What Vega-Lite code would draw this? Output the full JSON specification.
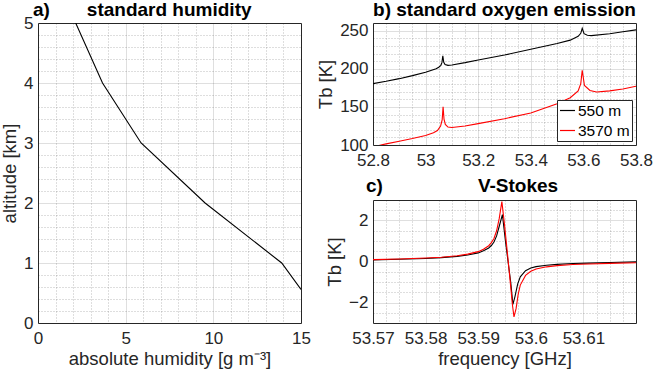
{
  "$schema": "https://vega.github.io/schema/vega-lite/v6.json",
  "background": "white",
  "padding": {"left": 0, "top": 0, "right": 2, "bottom": 2},
  "config": {
    "font": "Liberation Sans",
    "view": {"stroke": "#262626", "strokeWidth": 1},
    "axis": {
      "labelFont": "Liberation Sans", "labelFontSize": 17, "labelColor": "#262626",
      "titleFont": "Liberation Sans", "titleFontSize": 18.5, "titleFontWeight": "normal", "titleColor": "#262626",
      "ticks": false, "domain": false, "gridColor": "#262626", "gridOpacity": 0.15, "gridWidth": 1,
      "labelOverlap": false, "labelFlush": false, "labelBound": false
    },
    "axisX": {"labelPadding": 7, "titlePadding": 3},
    "axisY": {"labelPadding": 5, "titlePadding": 4},
    "title": {"font": "Liberation Sans", "fontSize": 19, "fontWeight": "bold", "color": "black", "frame": "group"}
  },
  "datasets": {
    "humidity": [
      {"hum": 2.15, "alt": 5},
      {"hum": 3.68, "alt": 4},
      {"hum": 5.88, "alt": 3},
      {"hum": 9.53, "alt": 2},
      {"hum": 13.9, "alt": 1},
      {"hum": 15.0, "alt": 0.56}
    ],
    "oxygen": [
      {"f": 52.80, "tb": 180.5, "s": "550 m"},
      {"f": 52.85, "tb": 183.5, "s": "550 m"},
      {"f": 52.90, "tb": 187, "s": "550 m"},
      {"f": 52.95, "tb": 191, "s": "550 m"},
      {"f": 53.00, "tb": 195.5, "s": "550 m"},
      {"f": 53.04, "tb": 200, "s": "550 m"},
      {"f": 53.05, "tb": 202, "s": "550 m"},
      {"f": 53.058, "tb": 204.5, "s": "550 m"},
      {"f": 53.062, "tb": 208, "s": "550 m"},
      {"f": 53.0655, "tb": 217, "s": "550 m"},
      {"f": 53.069, "tb": 208.5, "s": "550 m"},
      {"f": 53.074, "tb": 205.5, "s": "550 m"},
      {"f": 53.085, "tb": 204.5, "s": "550 m"},
      {"f": 53.10, "tb": 205, "s": "550 m"},
      {"f": 53.15, "tb": 208, "s": "550 m"},
      {"f": 53.20, "tb": 211.5, "s": "550 m"},
      {"f": 53.30, "tb": 218, "s": "550 m"},
      {"f": 53.40, "tb": 225.5, "s": "550 m"},
      {"f": 53.50, "tb": 233, "s": "550 m"},
      {"f": 53.55, "tb": 237.5, "s": "550 m"},
      {"f": 53.58, "tb": 242.5, "s": "550 m"},
      {"f": 53.59, "tb": 246.5, "s": "550 m"},
      {"f": 53.5955, "tb": 253, "s": "550 m"},
      {"f": 53.6025, "tb": 246, "s": "550 m"},
      {"f": 53.615, "tb": 244, "s": "550 m"},
      {"f": 53.63, "tb": 243.5, "s": "550 m"},
      {"f": 53.70, "tb": 246, "s": "550 m"},
      {"f": 53.75, "tb": 248.5, "s": "550 m"},
      {"f": 53.80, "tb": 251, "s": "550 m"},
      {"f": 52.80, "tb": 97.5, "s": "3570 m"},
      {"f": 52.85, "tb": 101.5, "s": "3570 m"},
      {"f": 52.90, "tb": 105, "s": "3570 m"},
      {"f": 52.95, "tb": 108.5, "s": "3570 m"},
      {"f": 53.00, "tb": 112.5, "s": "3570 m"},
      {"f": 53.03, "tb": 116, "s": "3570 m"},
      {"f": 53.045, "tb": 119, "s": "3570 m"},
      {"f": 53.057, "tb": 125, "s": "3570 m"},
      {"f": 53.063, "tb": 133, "s": "3570 m"},
      {"f": 53.0665, "tb": 150, "s": "3570 m"},
      {"f": 53.070, "tb": 134, "s": "3570 m"},
      {"f": 53.075, "tb": 127, "s": "3570 m"},
      {"f": 53.085, "tb": 123.5, "s": "3570 m"},
      {"f": 53.10, "tb": 123, "s": "3570 m"},
      {"f": 53.15, "tb": 125, "s": "3570 m"},
      {"f": 53.20, "tb": 128, "s": "3570 m"},
      {"f": 53.30, "tb": 134.5, "s": "3570 m"},
      {"f": 53.40, "tb": 142, "s": "3570 m"},
      {"f": 53.50, "tb": 154, "s": "3570 m"},
      {"f": 53.55, "tb": 162, "s": "3570 m"},
      {"f": 53.58, "tb": 171, "s": "3570 m"},
      {"f": 53.59, "tb": 180.5, "s": "3570 m"},
      {"f": 53.5955, "tb": 198, "s": "3570 m"},
      {"f": 53.604, "tb": 178, "s": "3570 m"},
      {"f": 53.625, "tb": 171.5, "s": "3570 m"},
      {"f": 53.65, "tb": 169.5, "s": "3570 m"},
      {"f": 53.70, "tb": 171, "s": "3570 m"},
      {"f": 53.75, "tb": 173.5, "s": "3570 m"},
      {"f": 53.80, "tb": 177, "s": "3570 m"}
    ],
    "stokes": [
      {"f": 53.570, "v": 0.08, "s": "550 m"},
      {"f": 53.575, "v": 0.11, "s": "550 m"},
      {"f": 53.580, "v": 0.15, "s": "550 m"},
      {"f": 53.583, "v": 0.19, "s": "550 m"},
      {"f": 53.586, "v": 0.25, "s": "550 m"},
      {"f": 53.588, "v": 0.32, "s": "550 m"},
      {"f": 53.590, "v": 0.42, "s": "550 m"},
      {"f": 53.591, "v": 0.52, "s": "550 m"},
      {"f": 53.592, "v": 0.66, "s": "550 m"},
      {"f": 53.5925, "v": 0.78, "s": "550 m"},
      {"f": 53.593, "v": 0.95, "s": "550 m"},
      {"f": 53.5935, "v": 1.25, "s": "550 m"},
      {"f": 53.594, "v": 1.72, "s": "550 m"},
      {"f": 53.5946, "v": 2.29, "s": "550 m"},
      {"f": 53.5952, "v": 0.95, "s": "550 m"},
      {"f": 53.5957, "v": -0.05, "s": "550 m"},
      {"f": 53.5962, "v": -1.05, "s": "550 m"},
      {"f": 53.5966, "v": -2.09, "s": "550 m"},
      {"f": 53.5970, "v": -1.7, "s": "550 m"},
      {"f": 53.5975, "v": -1.1, "s": "550 m"},
      {"f": 53.598, "v": -0.75, "s": "550 m"},
      {"f": 53.599, "v": -0.45, "s": "550 m"},
      {"f": 53.600, "v": -0.32, "s": "550 m"},
      {"f": 53.601, "v": -0.25, "s": "550 m"},
      {"f": 53.603, "v": -0.18, "s": "550 m"},
      {"f": 53.605, "v": -0.14, "s": "550 m"},
      {"f": 53.608, "v": -0.1, "s": "550 m"},
      {"f": 53.611, "v": -0.08, "s": "550 m"},
      {"f": 53.615, "v": -0.05, "s": "550 m"},
      {"f": 53.620, "v": -0.02, "s": "550 m"},
      {"f": 53.570, "v": 0.09, "s": "3570 m"},
      {"f": 53.575, "v": 0.12, "s": "3570 m"},
      {"f": 53.580, "v": 0.17, "s": "3570 m"},
      {"f": 53.583, "v": 0.21, "s": "3570 m"},
      {"f": 53.586, "v": 0.28, "s": "3570 m"},
      {"f": 53.588, "v": 0.36, "s": "3570 m"},
      {"f": 53.590, "v": 0.48, "s": "3570 m"},
      {"f": 53.591, "v": 0.6, "s": "3570 m"},
      {"f": 53.592, "v": 0.77, "s": "3570 m"},
      {"f": 53.5925, "v": 0.92, "s": "3570 m"},
      {"f": 53.593, "v": 1.12, "s": "3570 m"},
      {"f": 53.5935, "v": 1.5, "s": "3570 m"},
      {"f": 53.594, "v": 2.1, "s": "3570 m"},
      {"f": 53.5945, "v": 2.92, "s": "3570 m"},
      {"f": 53.5950, "v": 1.8, "s": "3570 m"},
      {"f": 53.5955, "v": 0.55, "s": "3570 m"},
      {"f": 53.5960, "v": -0.75, "s": "3570 m"},
      {"f": 53.5965, "v": -2.1, "s": "3570 m"},
      {"f": 53.5968, "v": -2.7, "s": "3570 m"},
      {"f": 53.5972, "v": -2.3, "s": "3570 m"},
      {"f": 53.5976, "v": -1.6, "s": "3570 m"},
      {"f": 53.598, "v": -1.15, "s": "3570 m"},
      {"f": 53.599, "v": -0.68, "s": "3570 m"},
      {"f": 53.600, "v": -0.48, "s": "3570 m"},
      {"f": 53.601, "v": -0.37, "s": "3570 m"},
      {"f": 53.603, "v": -0.26, "s": "3570 m"},
      {"f": 53.605, "v": -0.2, "s": "3570 m"},
      {"f": 53.608, "v": -0.15, "s": "3570 m"},
      {"f": 53.611, "v": -0.12, "s": "3570 m"},
      {"f": 53.615, "v": -0.09, "s": "3570 m"},
      {"f": 53.620, "v": -0.06, "s": "3570 m"}
    ]
  },
  "spacing": 72,
  "bounds": "flush",
  "hconcat": [
    {
      "width": 263,
      "height": 300,
      "title": {"text": "a)\u00a0\u00a0\u00a0\u00a0\u00a0\u00a0\u00a0standard humidity", "anchor": "start", "dx": -5, "offset": -6},
      "data": {"name": "humidity"},
      "resolve": {"axis": {"x": "independent", "y": "independent"}},
      "layer": [
        {
          "mark": {"type": "line", "color": "black", "strokeWidth": 1.1, "clip": true},
          "encoding": {
            "x": {"field": "hum", "type": "quantitative", "scale": {"domain": [0, 15], "nice": false, "zero": false},
                  "axis": {"title": "absolute humidity [g m\u207b\u00b3]", "values": [0, 5, 10, 15], "grid": true}},
            "y": {"field": "alt", "type": "quantitative", "scale": {"domain": [0, 5], "nice": false, "zero": false},
                  "axis": {"title": "altitude [km]", "values": [0, 1, 2, 3, 4, 5], "grid": true}}
          }
        },
        {
          "mark": {"type": "point", "opacity": 0},
          "encoding": {
            "x": {"field": "hum", "type": "quantitative",
                  "axis": {"orient": "bottom", "title": null, "labels": false, "grid": true, "gridDash": [1, 2], "gridOpacity": 0.3,
                           "values": [1, 2, 3, 4, 6, 7, 8, 9, 11, 12, 13, 14]}},
            "y": {"field": "alt", "type": "quantitative",
                  "axis": {"orient": "left", "title": null, "labels": false, "grid": true, "gridDash": [1, 2], "gridOpacity": 0.3,
                           "values": [0.2, 0.4, 0.6, 0.8, 1.2, 1.4, 1.6, 1.8, 2.2, 2.4, 2.6, 2.8, 3.2, 3.4, 3.6, 3.8, 4.2, 4.4, 4.6, 4.8]}}
          }
        }
      ]
    },
    {
      "spacing": 55,
      "bounds": "flush",
      "resolve": {"scale": {"color": "independent"}, "legend": {"color": "independent"}},
      "vconcat": [
        {
          "width": 263,
          "height": 122,
          "title": {"text": "b) standard oxygen emission", "anchor": "middle", "offset": 1.5},
          "data": {"name": "oxygen"},
          "resolve": {"axis": {"x": "independent", "y": "independent"}},
          "layer": [
            {
              "mark": {"type": "line", "strokeWidth": 1.1, "clip": true},
              "encoding": {
                "x": {"field": "f", "type": "quantitative", "scale": {"domain": [52.8, 53.8], "nice": false, "zero": false},
                      "axis": {"title": null, "values": [52.8, 53.0, 53.2, 53.4, 53.6, 53.8], "format": ".1~f", "grid": true}},
                "y": {"field": "tb", "type": "quantitative", "scale": {"domain": [100, 260], "nice": false, "zero": false},
                      "axis": {"title": "Tb [K]", "values": [100, 150, 200, 250], "grid": true}},
                "color": {"field": "s", "type": "nominal", "sort": null,
                          "scale": {"domain": ["550 m", "3570 m"], "range": ["#000000", "#ff0000"]},
                          "legend": {"title": null, "orient": "bottom-right", "offset": 4, "fillColor": "white", "strokeColor": "#262626",
                                     "padding": 2, "symbolType": "stroke", "symbolSize": 225, "symbolStrokeWidth": 1.2,
                                     "labelFontSize": 15.5, "labelColor": "black", "labelOffset": 2, "rowPadding": 3, "cornerRadius": 0}}
              }
            },
            {
              "mark": {"type": "point", "opacity": 0},
              "encoding": {
                "x": {"field": "f", "type": "quantitative",
                      "axis": {"orient": "bottom", "title": null, "labels": false, "grid": true, "gridDash": [1, 2], "gridOpacity": 0.3,
                               "values": [52.85, 52.9, 52.95, 53.05, 53.1, 53.15, 53.25, 53.3, 53.35, 53.45, 53.5, 53.55, 53.65, 53.7, 53.75]}},
                "y": {"field": "tb", "type": "quantitative",
                      "axis": {"orient": "left", "title": null, "labels": false, "grid": true, "gridDash": [1, 2], "gridOpacity": 0.3,
                               "values": [110, 120, 130, 140, 160, 170, 180, 190, 210, 220, 230, 240]}}
              }
            }
          ]
        },
        {
          "width": 263,
          "height": 123,
          "title": {"text": "c)\u00a0\u00a0\u00a0\u00a0\u00a0\u00a0\u00a0\u00a0\u00a0\u00a0\u00a0\u00a0\u00a0\u00a0\u00a0\u00a0\u00a0\u00a0V-Stokes", "anchor": "start", "dx": -7, "offset": 2.5},
          "data": {"name": "stokes"},
          "resolve": {"axis": {"x": "independent", "y": "independent"}},
          "layer": [
            {
              "mark": {"type": "line", "strokeWidth": 1.1, "clip": true},
              "encoding": {
                "x": {"field": "f", "type": "quantitative", "scale": {"domain": [53.57, 53.62], "nice": false, "zero": false},
                      "axis": {"title": "frequency [GHz]", "values": [53.57, 53.58, 53.59, 53.6, 53.61], "format": ".2~f", "grid": true}},
                "y": {"field": "v", "type": "quantitative", "scale": {"domain": [-3, 3], "nice": false, "zero": false},
                      "axis": {"title": "Tb [K]", "values": [-2, 0, 2], "grid": true}},
                "color": {"field": "s", "type": "nominal", "sort": null,
                          "scale": {"domain": ["550 m", "3570 m"], "range": ["#000000", "#ff0000"]}, "legend": null}
              }
            },
            {
              "mark": {"type": "point", "opacity": 0},
              "encoding": {
                "x": {"field": "f", "type": "quantitative",
                      "axis": {"orient": "bottom", "title": null, "labels": false, "grid": true, "gridDash": [1, 2], "gridOpacity": 0.3,
                               "values": [53.5725, 53.575, 53.5775, 53.5825, 53.585, 53.5875, 53.5925, 53.595, 53.5975, 53.6025, 53.605, 53.6075, 53.6125, 53.615, 53.6175]}},
                "y": {"field": "v", "type": "quantitative",
                      "axis": {"orient": "left", "title": null, "labels": false, "grid": true, "gridDash": [1, 2], "gridOpacity": 0.3,
                               "values": [-2.5, -1.5, -1, -0.5, 0.5, 1, 1.5, 2.5]}}
              }
            }
          ]
        }
      ]
    }
  ]
}
